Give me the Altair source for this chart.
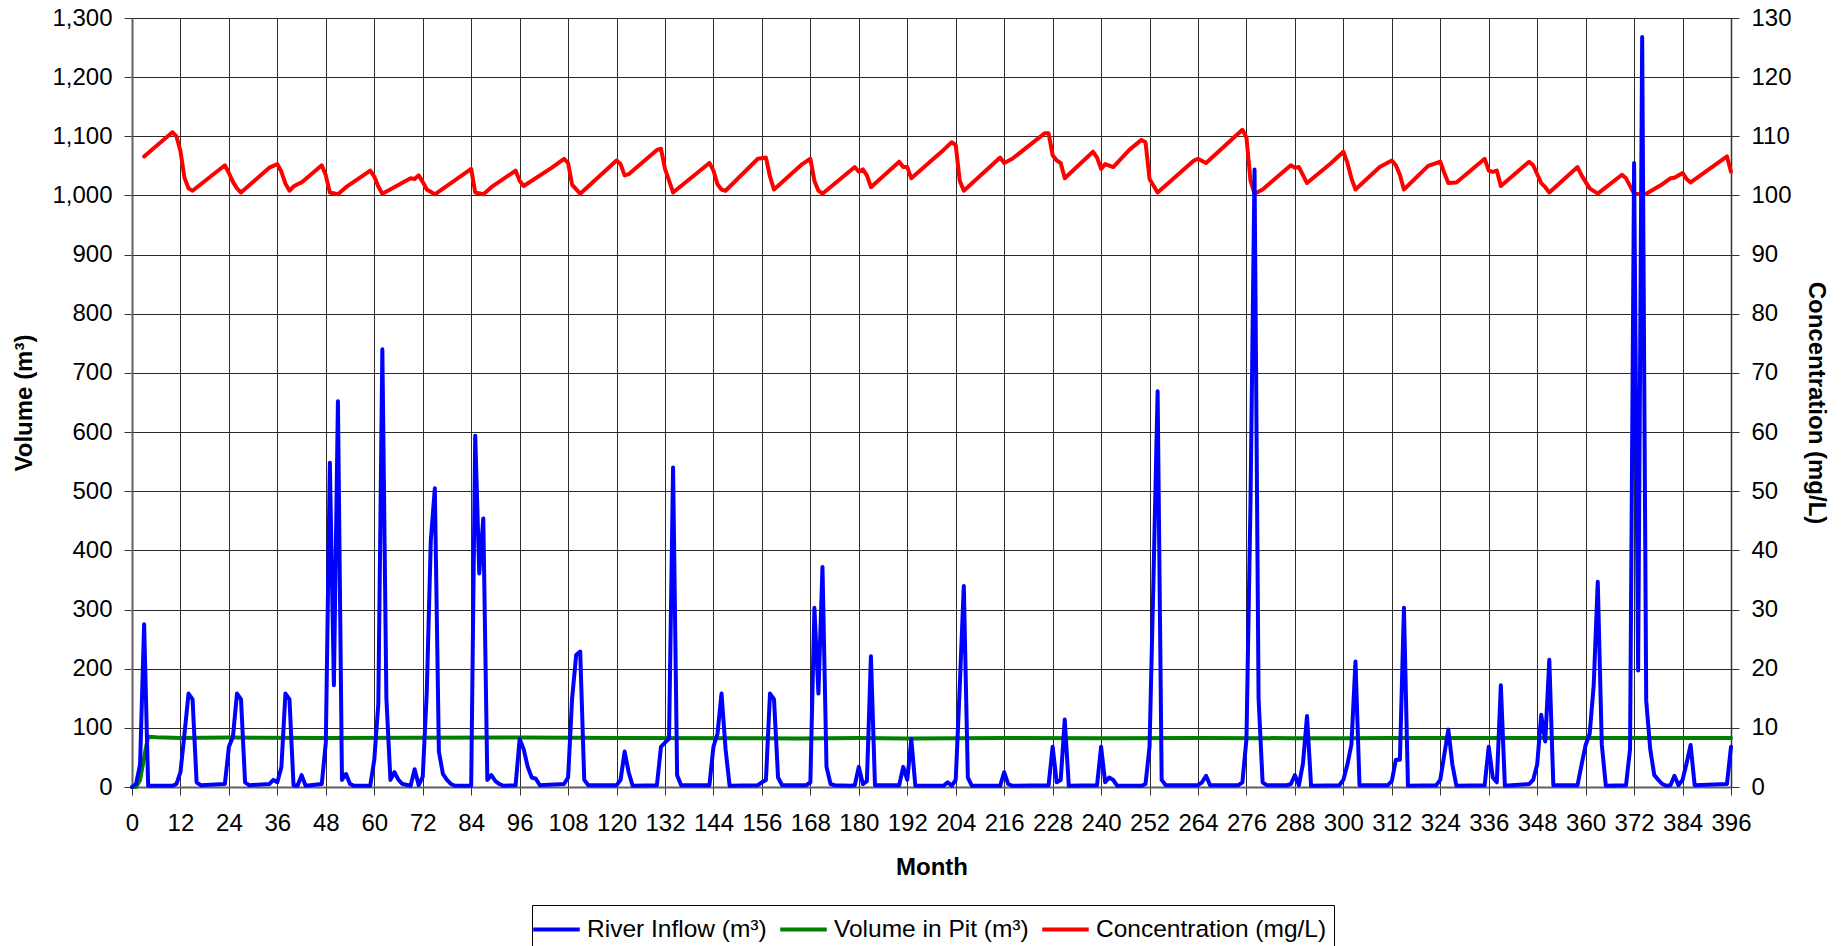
import altair as alt
import pandas as pd

# River inflow into the pit (m³) by month
inflow_month = [
    0, 1, 2, 3, 4,
    10, 11, 12, 13, 14, 15, 16, 17,
    23, 24, 25, 26, 27, 28, 29,
    34, 35, 36, 37, 38, 39, 40, 41, 42, 43,
    47, 48, 49, 50, 51, 52, 53, 54, 55,
    59, 60, 61, 62, 63, 64, 65, 66, 67, 69, 70, 71, 72, 73, 74, 75, 76, 77, 78, 79, 80,
    84, 85, 86, 87, 88, 89, 90, 91, 92,
    95, 96, 97, 98, 99, 100, 101,
    107, 108, 109, 110, 111, 112, 113,
    120, 121, 122, 123, 124,
    130, 131, 132, 133, 134, 135, 136,
    143, 144, 145, 146, 147, 148,
    155, 156, 157, 158, 159, 160, 161,
    167, 168, 169, 170, 171, 172, 173, 174,
    178, 179, 180, 181, 182, 183, 184,
    190, 191, 192, 193, 194,
    201, 202, 203, 204, 205, 206, 207, 208,
    215, 216, 217, 218,
    227, 228, 229, 230, 231, 232,
    239, 240, 241, 242, 243, 244,
    250, 251, 252, 253, 254, 255, 256,
    264, 265, 266, 267,
    274, 275, 276, 277, 278, 279, 280, 281,
    286, 287, 288, 289, 290, 291, 292,
    299, 300, 301, 302, 303, 304,
    311, 312, 313, 314, 315, 316,
    323, 324, 325, 326, 327, 328,
    335, 336, 337, 338, 339, 340,
    346, 347, 348, 349, 350, 351, 352,
    358, 359, 360, 361, 362, 363, 364, 365,
    370, 371, 372, 373, 374, 375, 376, 377, 378, 379, 380, 381, 382, 383, 384, 385, 386, 387,
    395, 396,
]
inflow_value = [
    0, 5, 38, 275, 2,
    2, 5, 25, 90, 158, 148, 8, 3,
    5, 68, 85, 158, 148, 8, 3,
    5, 12, 8, 34, 158, 148, 3, 2, 20, 2,
    5, 75, 548, 172, 652, 12, 22, 5, 2,
    2, 46, 140, 740, 150, 12, 25, 12, 5, 2, 30, 3, 17, 160, 417, 505, 60, 22, 12, 5, 2,
    2, 594, 361, 454, 12, 20, 10, 5, 2,
    3, 81, 64, 34, 16, 14, 3,
    5, 16, 150, 223, 229, 12, 3,
    3, 12, 60, 25, 2,
    3, 68, 75, 82, 540, 20, 3,
    3, 68, 90, 158, 64, 2,
    3, 8, 12, 158, 148, 16, 3,
    3, 8, 303, 158, 372, 34, 5, 3,
    2, 3, 34, 5, 10, 221, 3,
    3, 34, 12, 81, 2,
    2, 8, 2, 12, 170, 340, 16, 2,
    2, 25, 5, 2,
    3, 68, 8, 12, 114, 2,
    3, 68, 8, 16, 12, 2,
    2, 5, 68, 360, 669, 12, 3,
    3, 8, 19, 3,
    3, 8, 81, 480, 1044, 150, 8, 3,
    3, 5, 20, 3, 40, 120, 2,
    3, 12, 38, 72, 212, 3,
    3, 10, 46, 46, 303, 2,
    3, 12, 55, 97, 38, 2,
    3, 68, 16, 8, 172, 2,
    5, 12, 38, 122, 77, 215, 3,
    3, 38, 71, 90, 172, 347, 72, 2,
    3, 64, 1055, 197, 1268, 146, 64, 20, 12, 5, 2, 3, 19, 3, 12, 40, 71, 3,
    5, 68,
]

# Water held in the pit (m³)
pit_month = [0, 1, 2, 3, 4, 6, 12, 24, 48, 96, 120, 156, 165, 180, 192, 204,
             216, 240, 264, 288, 300, 312, 336, 360, 396]
pit_value = [0, 0, 12, 50, 85, 84, 83, 83.5, 83, 83.5, 83, 82.5, 82, 83, 82,
             82.5, 83, 82.5, 83, 82.5, 82.5, 83, 83, 83, 83]

# Concentration in the pit (mg/L)
conc_month = [
    3, 10, 11, 12, 13, 14, 15,
    23, 24, 25, 26, 27,
    34, 36, 37, 38, 39, 40, 41, 42,
    47, 48, 49, 51, 53, 59, 60, 61, 62,
    69, 70, 71, 72, 73, 75,
    84, 85, 87, 89, 95, 96, 97,
    104, 107, 108, 109, 111,
    120, 121, 122, 123, 130, 131, 132, 133, 134,
    143, 144, 145, 146, 147,
    155, 157, 158, 159, 166, 168, 169, 170, 171,
    179, 180, 181, 182, 183,
    190, 191, 192, 193, 198,
    201, 203, 204, 205, 206,
    215, 216, 218, 226, 227, 228, 229, 230, 231,
    238, 239, 240, 241, 243, 247,
    250, 251, 252, 254, 263, 264, 266,
    275, 276, 277, 278, 280,
    287, 288, 289, 291, 297,
    300, 301, 302, 303, 309, 312, 313, 314, 315,
    321, 324, 325, 326, 328,
    335, 336, 337, 338, 339,
    346, 347, 349, 350, 351, 358, 359, 361, 363,
    369, 370, 372, 374, 375, 379, 381, 382, 384, 385, 386,
    395, 396,
]
conc_value = [
    106.6, 110.7, 110.0, 107.5, 103.0, 101.2, 100.8,
    105.1, 103.8, 102.3, 101.2, 100.5,
    104.7, 105.3, 104.0, 102.0, 100.8, 101.5, 101.9, 102.2,
    105.1, 103.4, 100.5, 100.2, 101.4, 104.2, 103.2, 101.5, 100.3,
    102.9, 102.8, 103.4, 102.3, 101.0, 100.2,
    104.5, 100.5, 100.2, 101.4, 104.2, 102.5, 101.6,
    104.7, 106.2, 105.5, 101.8, 100.3,
    105.9, 105.3, 103.4, 103.6, 107.7, 107.9, 104.5, 102.5, 100.5,
    105.5, 104.2, 101.9, 101.0, 100.8,
    106.2, 106.4, 103.2, 101.0, 105.3, 106.2, 102.5, 100.8, 100.3,
    104.8, 104.0, 104.4, 103.4, 101.4,
    105.7, 104.8, 104.8, 102.9, 105.9,
    107.7, 109.0, 108.5, 102.5, 100.8,
    106.4, 105.5, 106.2, 110.5, 110.5, 106.8, 105.9, 105.5, 102.9,
    107.4, 106.4, 104.5, 105.3, 104.8, 107.7,
    109.4, 109.0, 102.8, 100.5, 105.9, 106.2, 105.5,
    111.1, 109.8, 102.5, 100.3, 101.0,
    105.1, 104.7, 104.8, 102.1, 105.5,
    107.4, 105.5, 102.9, 101.0, 104.8, 105.9, 105.1, 103.5, 101.0,
    105.0, 105.7, 103.8, 102.1, 102.2,
    106.2, 104.2, 104.0, 104.2, 101.6,
    105.7, 105.1, 102.1, 101.4, 100.5, 104.8, 103.4, 101.2, 100.3,
    103.5, 102.9, 100.3, 100.2, 100.3, 101.9, 102.9, 103.0, 103.8, 102.8, 102.2,
    106.6, 104.0,
]

series_names = ["River Inflow (m³)", "Volume in Pit (m³)", "Concentration (mg/L)"]
series_colors = ["#0000FF", "#008000", "#FF0000"]

month_ticks = list(range(0, 397, 12))
volume_ticks = list(range(0, 1301, 100))
conc_ticks = list(range(0, 131, 10))

inflow_df = pd.DataFrame({"month": inflow_month, "value": inflow_value, "series": series_names[0]})
pit_df = pd.DataFrame({"month": pit_month, "value": pit_value, "series": series_names[1]})
conc_df = pd.DataFrame({"month": conc_month, "value": conc_value, "series": series_names[2]})

FONT = "Liberation Sans"
W, H = 1599, 769

x_enc = alt.X(
    "month:Q",
    scale=alt.Scale(domain=[0, 396], nice=False, zero=False),
    axis=alt.Axis(
        values=month_ticks, title="Month", grid=True, labelAngle=0,
        labelOverlap=False, labelFlush=False, tickSize=8, labelPadding=16,
        titleX=W / 2, titleY=80, titleBaseline="middle", titleAlign="center",
        domainColor="#606060", domainWidth=2,
    ),
)

# legend key: a wide flat line drawn from a custom path so the row stays short
color_enc = alt.Color(
    "series:N",
    scale=alt.Scale(domain=series_names, range=series_colors),
    legend=alt.Legend(
        title=None, orient="none", legendX=400, legendY=887,
        direction="horizontal", columns=3, symbolType="M-1.5,0L1.5,0",
        symbolSize=961, symbolStrokeWidth=4, labelFont=FONT,
        labelFontSize=24.5, labelColor="black", labelLimit=0,
        strokeColor="black", fillColor="white", padding=7,
        columnPadding=5, labelOffset=13,
    ),
)

left_y = alt.Y(
    "value:Q",
    scale=alt.Scale(domain=[0, 1300], nice=False),
    axis=alt.Axis(
        orient="left", values=volume_ticks, format=",d", title="Volume (m³)",
        grid=True, tickSize=8, labelPadding=12,
        titleX=-108, titleY=H / 2, titleAngle=270,
        titleBaseline="middle", titleAlign="center",
        domainColor="#606060", domainWidth=2,
    ),
)

right_y = alt.Y(
    "value:Q",
    scale=alt.Scale(domain=[0, 130], nice=False),
    axis=alt.Axis(
        orient="right", values=conc_ticks, format="d", title="Concentration (mg/L)",
        grid=False, tickSize=8, labelPadding=12,
        titleX=84, titleY=H / 2, titleAngle=90,
        titleBaseline="middle", titleAlign="center",
        domainColor="#333333", domainWidth=1.5,
    ),
)

line_style = dict(strokeJoin="round", strokeCap="round")

conc_line = alt.Chart(conc_df).mark_line(strokeWidth=4, **line_style).encode(
    x=x_enc, y=right_y, color=color_enc
)
pit_line = alt.Chart(pit_df).mark_line(strokeWidth=4, **line_style).encode(
    x=x_enc, y=left_y, color=color_enc
)
inflow_line = alt.Chart(inflow_df).mark_line(strokeWidth=4, **line_style).encode(
    x=x_enc, y=left_y, color=color_enc
)

volume_layer = alt.layer(pit_line, inflow_line)

chart = (
    alt.layer(conc_line, volume_layer)
    .resolve_scale(y="independent")
    .properties(
        width=W, height=H,
        autosize=alt.AutoSizeParams(type="none"),
        padding={"left": 132, "top": 18, "right": 117, "bottom": 159},
        background="white",
    )
    .configure_view(stroke=None)
    .configure_axis(
        labelFont=FONT, labelFontSize=24, labelColor="black",
        titleFont=FONT, titleFontSize=24, titleFontWeight="bold", titleColor="black",
        gridColor="#2b2b2b", gridWidth=1, gridOpacity=1,
        tickColor="#333333", tickWidth=1,
    )
)

chart.save("out.html", embed_options={"renderer": "svg", "actions": False})
